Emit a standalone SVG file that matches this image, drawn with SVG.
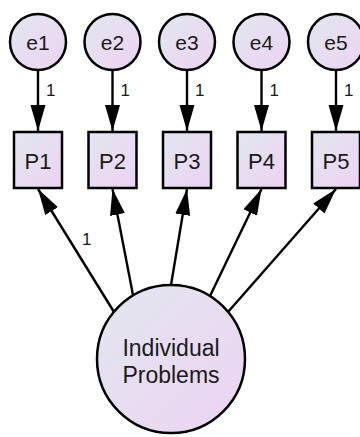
<svg xmlns="http://www.w3.org/2000/svg" width="360" height="437" viewBox="0 0 360 437">
<defs>
<linearGradient id="g" x1="0" y1="0" x2="1" y2="1">
<stop offset="0" stop-color="#e2e7ef"/>
<stop offset="1" stop-color="#edd3f3"/>
</linearGradient>
<marker id="ah" markerUnits="userSpaceOnUse" markerWidth="28" markerHeight="16" refX="26" refY="7.5" orient="auto">
<path d="M0,0 L26,7.5 L0,15 z" fill="#000"/>
</marker>
<style>
.n{fill:url(#g);stroke:#000;stroke-width:2.5}
.t{font-family:"Liberation Sans",Arial,sans-serif;fill:#1a1a1a;text-anchor:middle}
.lab{font-family:"Liberation Sans",Arial,sans-serif;fill:#1a1a1a;font-size:17px}
.c{stroke:#000;stroke-width:2.4;fill:none;marker-end:url(#ah)}
</style>
</defs>
<rect width="360" height="437" fill="#fff"/>
<g id="connectors">
<line class="c" x1="38" y1="70" x2="38" y2="131"/>
<line class="c" x1="112.5" y1="70" x2="112.5" y2="131"/>
<line class="c" x1="187" y1="70" x2="187" y2="131"/>
<line class="c" x1="261.5" y1="70" x2="261.5" y2="131"/>
<line class="c" x1="336" y1="70" x2="336" y2="131"/>
<line class="c" x1="114" y1="312" x2="38" y2="189"/>
<line class="c" x1="133" y1="295" x2="112.5" y2="189"/>
<line class="c" x1="171" y1="285" x2="187" y2="189"/>
<line class="c" x1="210" y1="296" x2="261.5" y2="189"/>
<line class="c" x1="228" y1="312" x2="336" y2="189"/>
<text class="lab" x="46" y="96">1</text>
<text class="lab" x="120.5" y="96">1</text>
<text class="lab" x="195" y="96">1</text>
<text class="lab" x="269.5" y="96">1</text>
<text class="lab" x="344" y="96">1</text>
<text class="lab" x="82" y="245">1</text>
</g>
<g id="e1"><circle class="n" cx="38" cy="42" r="28"/><text class="t" x="38" y="50" font-size="21">e1</text></g>
<g id="e2"><circle class="n" cx="112.5" cy="42" r="28"/><text class="t" x="112.5" y="50" font-size="21">e2</text></g>
<g id="e3"><circle class="n" cx="187" cy="42" r="28"/><text class="t" x="187" y="50" font-size="21">e3</text></g>
<g id="e4"><circle class="n" cx="261.5" cy="42" r="28"/><text class="t" x="261.5" y="50" font-size="21">e4</text></g>
<g id="e5"><circle class="n" cx="336" cy="42" r="28"/><text class="t" x="336" y="50" font-size="21">e5</text></g>
<g id="P1"><rect class="n" x="14" y="132" width="48" height="56"/><text class="t" x="38" y="169" font-size="22">P1</text></g>
<g id="P2"><rect class="n" x="88.5" y="132" width="48" height="56"/><text class="t" x="112.5" y="169" font-size="22">P2</text></g>
<g id="P3"><rect class="n" x="163" y="132" width="48" height="56"/><text class="t" x="187" y="169" font-size="22">P3</text></g>
<g id="P4"><rect class="n" x="237.5" y="132" width="48" height="56"/><text class="t" x="261.5" y="169" font-size="22">P4</text></g>
<g id="P5"><rect class="n" x="312" y="132" width="48" height="56"/><text class="t" x="336" y="169" font-size="22">P5</text></g>
<g id="IndividualProblems"><circle class="n" cx="171" cy="359" r="74"/><text class="t" font-size="23"><tspan x="171" y="356">Individual</tspan><tspan x="171" y="383">Problems</tspan></text></g>
</svg>
